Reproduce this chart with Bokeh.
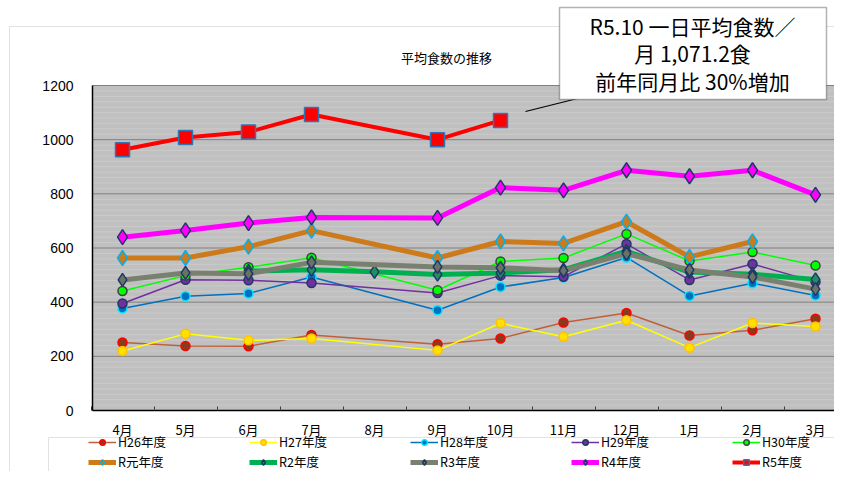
from bokeh.plotting import figure
from bokeh.models import (Range1d, FixedTicker, Legend, LegendItem,
                          Label, BoxAnnotation, ColumnDataSource)
from bokeh.embed import file_html
from bokeh.resources import INLINE

# ---------------- data ----------------
months = ["4月", "5月", "6月", "7月", "8月", "9月", "10月", "11月", "12月", "1月", "2月", "3月"]
y_ticks = [0, 200, 400, 600, 800, 1000, 1200]

h26 = [251, 238, 237, 279, None, 245, 266, 325, 360, 277, 296, 339]
h27 = [220, 283, 259, 266, None, 222, 322, 272, 333, 232, 323, 310]
h28 = [377, 422, 432, 493, None, 370, 456, 491, 565, 423, 470, 425]
h29 = [395, 483, 481, 471, None, 434, 498, 494, 615, 482, 541, 475]
h30 = [441, 498, 529, 564, None, 444, 550, 563, 652, 552, 585, 535]
r1 = [563, 563, 605, 664, None, 563, 624, 617, 697, 567, 624, None]
r2 = [None, None, 515, 520, 512, 502, 508, 520, 588, 511, 503, 484]
r3 = [482, 508, 505, 547, None, 530, 527, 516, 579, 519, 493, 448]
r4 = [640, 665, 692, 713, None, 711, 823, 813, 887, 865, 887, 796]
r5 = [963, 1008, 1028, 1093, None, 1000, 1071, None, None, None, None, None]

names = ["H26年度", "H27年度", "H28年度", "H29年度", "H30年度",
         "R元年度", "R2年度", "R3年度", "R4年度", "R5年度"]
values = [h26, h27, h28, h29, h30, r1, r2, r3, r4, r5]

title_text = "平均食数の推移"
callout_lines = ["R5.10 一日平均食数／", "月 1,071.2食", "前年同月比 30%増加"]

# ---------------- styles ----------------
styles = [
    dict(lc="#C0603A", lw=1.5, m="circle", sz=9, fc="#8B3A1A", ec="#FF0000"),
    dict(lc="#FFFF00", lw=1.5, m="circle", sz=9, fc="#FFE000", ec="#FFC000"),
    dict(lc="#0070C0", lw=1.5, m="circle", sz=9, fc="#0070C0", ec="#00E5FF"),
    dict(lc="#7030A0", lw=1.5, m="circle", sz=9, fc="#7030A0", ec="#1F3864"),
    dict(lc="#00FF00", lw=1.5, m="circle", sz=9, fc="#00FF00", ec="#404040"),
    dict(lc="#CC7A1A", lw=5, m="diamond", sz=15, fc="#CC7A1A", ec="#00B0F0"),
    dict(lc="#00B050", lw=5, m="diamond", sz=13, fc="#1E9060", ec="#1F3864"),
    dict(lc="#7A8070", lw=5, m="diamond", sz=13, fc="#6B7265", ec="#1F3864"),
    dict(lc="#FF00FF", lw=5, m="diamond", sz=15, fc="#FF00FF", ec="#1F3864"),
    dict(lc="#FF0000", lw=4, m="square", sz=14, fc="#FF0000", ec="#2E75B6"),
]

JP = "Noto Sans CJK JP"
W, H = 834, 471
# plot-area geometry (pixels) -> data ranges
PX_X0, PX_STEP = 122, 63          # centre of first month, px per month
PX_Y0, PX_Y1200 = 410, 85         # px of value 0 and of value 1200
PLOT_LEFT_PX = 92
ky = (PX_Y0 - PX_Y1200) / 1200.0
x_start, x_end = -PX_X0 / PX_STEP, (W - PX_X0) / PX_STEP
y_start, y_end = -(H - PX_Y0) / ky, PX_Y0 / ky
area_left = (PLOT_LEFT_PX - PX_X0) / PX_STEP

p = figure(width=W, height=H, output_backend="svg", toolbar_location=None,
           x_range=Range1d(x_start, x_end), y_range=Range1d(y_start, y_end),
           min_border=0)
p.background_fill_color = "white"
p.border_fill_color = "white"
p.outline_line_color = None
p.xgrid.visible = False
p.ygrid.visible = False

# plot area, stripes and grid
p.quad(left=[area_left], right=[x_end], bottom=[y_ticks[0]], top=[y_ticks[-1]],
       fill_color="#C0C0C0", line_color=None)
minor = [v for v in range(y_ticks[0], y_ticks[-1], 20) if v not in y_ticks]
p.segment(x0=[area_left] * len(minor), x1=[x_end] * len(minor), y0=minor, y1=minor,
          line_color="#CACACA", line_width=1)
p.segment(x0=[area_left] * len(y_ticks), x1=[x_end] * len(y_ticks), y0=y_ticks, y1=y_ticks,
          line_color="#808080", line_width=1)

# axes, pinned to the plot area
idx = list(range(len(months)))
p.xaxis.fixed_location = y_ticks[0]
p.xaxis.bounds = (area_left, x_end)
p.xaxis.ticker = FixedTicker(ticks=idx, minor_ticks=[i + 0.5 for i in range(-1, len(months))])
p.xaxis.major_label_overrides = {i: m for i, m in enumerate(months)}
p.xaxis.major_tick_in = 0
p.xaxis.major_tick_out = 0
p.xaxis.minor_tick_in = 4
p.xaxis.minor_tick_out = 0
p.xaxis.minor_tick_line_color = "#404040"
p.xaxis.axis_line_color = "black"
p.xaxis.axis_line_width = 1.5
p.xaxis.major_label_standoff = 9
p.xaxis.major_label_text_font = JP
p.xaxis.major_label_text_font_size = "13px"
p.xaxis.major_label_text_color = "black"

p.yaxis.fixed_location = area_left
p.yaxis.bounds = (y_ticks[0], y_ticks[-1])
p.yaxis.ticker = FixedTicker(ticks=y_ticks)
p.yaxis.major_tick_in = 0
p.yaxis.major_tick_out = 0
p.yaxis.minor_tick_in = 0
p.yaxis.minor_tick_out = 0
p.yaxis.axis_line_color = "black"
p.yaxis.axis_line_width = 1.5
p.yaxis.major_label_standoff = 19
p.yaxis.major_label_text_font = "Liberation Sans"
p.yaxis.major_label_text_font_size = "14px"
p.yaxis.major_label_text_color = "black"

# series
items = []
for name, vals, st in zip(names, values, styles):
    xs = [i for i, v in zip(idx, vals) if v is not None]
    ys = [v for v in vals if v is not None]
    src = ColumnDataSource(dict(x=xs, y=ys))
    lr = p.line("x", "y", source=src, line_color=st["lc"], line_width=st["lw"])
    sr = p.scatter("x", "y", source=src, marker=st["m"], size=st["sz"],
                   fill_color=st["fc"], line_color=st["ec"], line_width=1.5)
    items.append(LegendItem(label=name, renderers=[lr, sr]))

# outer chart border and legend box (canvas px)
p.add_layout(BoxAnnotation(left=9, right=850, top=26, bottom=490,
                           left_units="canvas", right_units="canvas",
                           top_units="canvas", bottom_units="canvas",
                           fill_alpha=0, line_color="#A0A0A0", line_width=1))
p.add_layout(BoxAnnotation(left=48, right=850, top=437, bottom=490,
                           left_units="canvas", right_units="canvas",
                           top_units="canvas", bottom_units="canvas",
                           fill_alpha=0, line_color="#A0A0A0", line_width=1))

legend = Legend(items=items, orientation="horizontal", ncols=5,
                location=(88, 0), padding=0, margin=0, spacing=1,
                glyph_width=28, glyph_height=14, label_height=14, label_width=130,
                label_standoff=2, border_line_color=None, background_fill_alpha=0,
                label_text_font=JP, label_text_font_size="12.5px", label_text_color="black")
p.add_layout(legend)

# title
p.add_layout(Label(x=446, y=H - 57, x_units="screen", y_units="screen", text=title_text,
                   text_font=JP, text_font_size="13px", text_align="center",
                   text_baseline="middle", text_color="black"))

# leader line for callout
p.segment(x0=[(525 - PX_X0) / PX_STEP], y0=[(PX_Y0 - 111) / ky],
          x1=[(593 - PX_X0) / PX_STEP], y1=[(PX_Y0 - 94) / ky],
          line_color="black", line_width=1.2)

# callout box
p.add_layout(BoxAnnotation(left=559, right=826, top=7, bottom=99,
                           left_units="canvas", right_units="canvas",
                           top_units="canvas", bottom_units="canvas",
                           fill_color="white", fill_alpha=1, line_color="black", line_width=1.5))
for t, yy in zip(callout_lines, [25, 52, 80]):
    p.add_layout(Label(x=692, y=H - yy, x_units="screen", y_units="screen", text=t,
                       text_font=JP, text_font_size="21px", text_align="center",
                       text_baseline="middle", text_color="black"))

open("out.html", "w").write(file_html(p, INLINE))
